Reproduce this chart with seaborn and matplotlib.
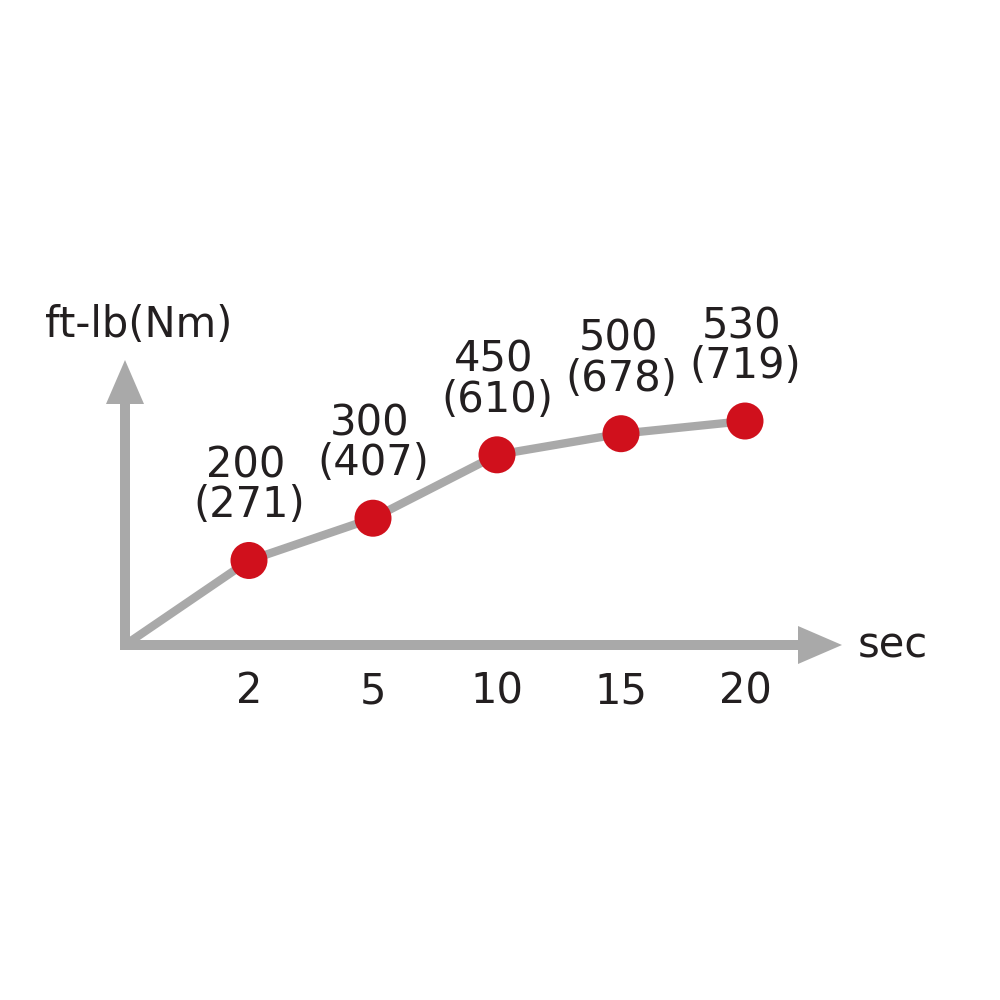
import matplotlib
matplotlib.use("Agg")
import matplotlib.pyplot as plt
import seaborn as sns
import pandas as pd

# ---- data ----
seconds = ["2", "5", "10", "15", "20"]
torque_ftlb = [200, 300, 450, 500, 530]
torque_nm = [271, 407, 610, 678, 719]
x_label = "sec"
y_label = "ft-lb(Nm)"

sns.set_theme(style="white")
plt.rcParams['font.family'] = ['DejaVu Sans']

GRAY = "#a9a9a9"
RED = "#d0101c"
TXT = "#231f20"
PX = 72 / 100  # points per pixel at dpi 100

pos = list(range(1, len(seconds) + 1))
line_df = pd.DataFrame({"x": [0] + pos, "y": [0] + torque_ftlb})
pt_df = pd.DataFrame({"x": pos, "y": torque_ftlb})

fig = plt.figure(figsize=(10, 10), dpi=100)
ax = fig.add_axes([0, 0, 1, 1])
ax.set_xlim(-125 / 124, 875 / 124)
ax.set_ylim(-355 / 0.4226, 645 / 0.4226)
ax.axis("off")

# axes arrows (filled polygons, no stroke)
x_end = (842 - 125) / 124
y_end = (645 - 360) / 0.4226
hl, hw, tw = 44 * PX / 10, 38 * PX / 10, 10 * PX / 10
arrow_kw = dict(arrowstyle=f"simple,head_length={hl},head_width={hw},tail_width={tw}",
                mutation_scale=10, lw=0, color=GRAY, shrinkA=0, shrinkB=0)
ax.annotate("", xy=(x_end, 0), xytext=(-5 / 124, 0), arrowprops=arrow_kw, zorder=1)
ax.annotate("", xy=(0, y_end), xytext=(0, -5 / 0.4226), arrowprops=arrow_kw, zorder=1)

sns.lineplot(data=line_df, x="x", y="y", ax=ax, color=GRAY, lw=6, zorder=2,
             solid_joinstyle="round", solid_capstyle="butt")
sns.scatterplot(data=pt_df, x="x", y="y", ax=ax, color=RED, s=(37 * PX) ** 2,
                edgecolor="none", linewidth=0, zorder=3)
ax.axis("off")

for x, v, nm in zip(pos, torque_ftlb, torque_nm):
    ax.annotate(str(v), xy=(x, v), xytext=(-3 * PX, 95 * PX), textcoords="offset points",
                ha="center", va="center", fontsize=30, color=TXT)
    ax.annotate(f"({nm})", xy=(x, v), xytext=(0, 55 * PX), textcoords="offset points",
                ha="center", va="center", fontsize=30, color=TXT)

for x, lab in zip(pos, seconds):
    ax.annotate(lab, xy=(x, 0), xytext=(0, -46 * PX), textcoords="offset points",
                ha="center", va="center", fontsize=30, color=TXT)

ax.text(x_end + 16 / 124, 0, x_label, ha="left", va="center", fontsize=30, color=TXT)
ax.text(-80 / 124, (645 - 325) / 0.4226, y_label, ha="left", va="center", fontsize=30, color=TXT)

fig.savefig("out.png", dpi=100, facecolor="white")
